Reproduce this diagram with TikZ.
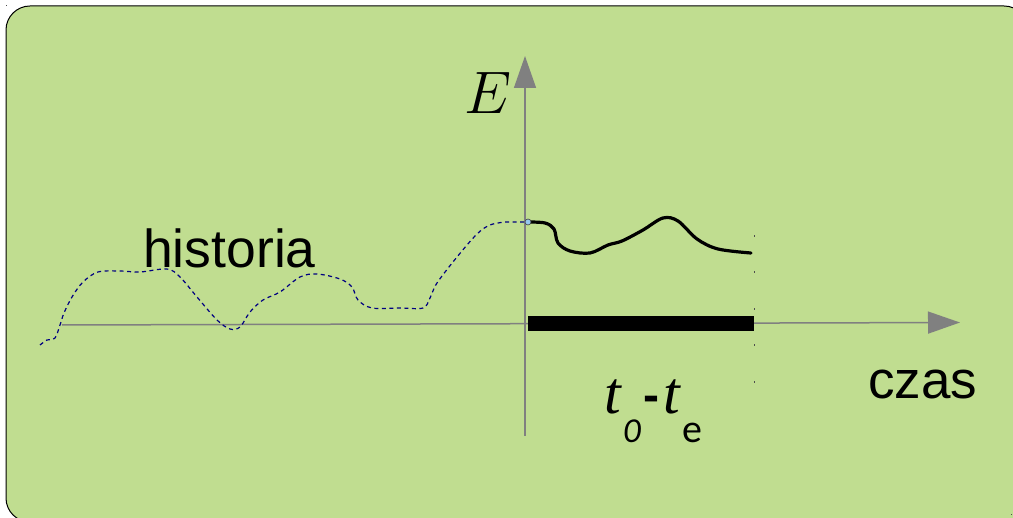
\documentclass[tikz,border=0pt]{standalone}
\usepackage{fix-cm}
\usepackage{fontspec}
\setmainfont{Liberation Sans}
\newfontfamily\tfont{Liberation Serif}
\newfontfamily\cfont{Carlito}
\usetikzlibrary{arrows.meta}
\definecolor{bggreen}{RGB}{192,221,144}
\definecolor{axisgray}{RGB}{128,128,128}
\definecolor{histblue}{RGB}{0,0,128}
\definecolor{dotblue}{RGB}{150,200,240}
\begin{document}
\begin{tikzpicture}[x=1pt,y=-1pt,
  axisline/.style={draw=axisgray,line width=1.5pt,-{Triangle[length=32pt,width=22pt]}},
  histline/.style={draw=histblue,line width=1.2pt,dash pattern=on 4pt off 3.5pt},
  nowline/.style={draw=black,line width=3.2pt,line cap=round,line join=round},
  lbl/.style={inner sep=0pt,anchor=base west},
  marker/.style={fill=axisgray!60!black}]
\useasboundingbox (0,0) rectangle (1013,518);
\clip (0,0) rectangle (1013,518);
% background panel
\draw[fill=bggreen,draw=black,line width=1pt,rounded corners=24pt] (6,6) rectangle (1028,522);
\fill[marker] (6,5.5) rectangle ++(1,1);
\fill[marker] (1011,514) rectangle ++(1,1);
% axes
\coordinate (xs) at (62,325);
\coordinate (xe) at (960,322.5);
\coordinate (ys) at (525,436);
\coordinate (ye) at (525,56);
\draw[axisline] (xs) -- (xe);
\draw[axisline] (ys) -- (ye);
% history (dashed)
\coordinate (now) at (528,222);
\draw[histline] plot[smooth,tension=0.55] coordinates {
 (40,345) (47,340) (55,338) (60,325) (64,313) (72,297) (83,282) (98,272) (120,271) (140,272)
 (167,269) (180,277) (197,297) (217,320) (230,329) (240,327) (250,312) (263,300) (280,292)
 (300,277) (317,274) (340,279) (352,287) (358,300) (372,308) (400,308) (423,308) (430,298)
 (437,283) (457,257) (477,234) (490,225) (505,222)} -- (now);
% present (solid)
\draw[nowline] plot[smooth,tension=0.55] coordinates {
 (528,222) (545,223) (554,229) (558,243) (570,251) (590,253) (608,245) (622,241)
 (643,230) (663,218) (678,221) (697,239) (718,249) (751,253)};
\fill[dotblue,draw=axisgray!50!black,line width=0.6pt] (now) circle (3pt);
% interval bar
\fill[black] (528,316) rectangle (754,331);
\foreach \yy in {235,271.5,308,344.5,381}
  \fill[marker] (753.5,\yy) rectangle ++(1.6,1.6);
% labels
\node[inner sep=0pt] (E) at (488,93) {\fontsize{60}{60}\selectfont$E$};
\node[lbl] (hist) at (143,268) {\fontsize{53.5}{53.5}\selectfont historia};
\node[lbl] (czas) at (868,399) {\fontsize{53}{53}\selectfont czas};
\node[lbl] (t1) at (604,414) {\fontsize{60}{60}\selectfont\tfont\itshape t};
\node[lbl] (s0) at (623,443) {\fontsize{35}{35}\selectfont\cfont\itshape 0};
\node[lbl] (dash) at (643,412) {\fontsize{48}{48}\selectfont\bfseries -};
\node[lbl] (t2) at (663,414) {\fontsize{60}{60}\selectfont\tfont\itshape t};
\node[lbl] (se) at (682,443) {\fontsize{40}{40}\selectfont\cfont e};
\end{tikzpicture}
\end{document}
